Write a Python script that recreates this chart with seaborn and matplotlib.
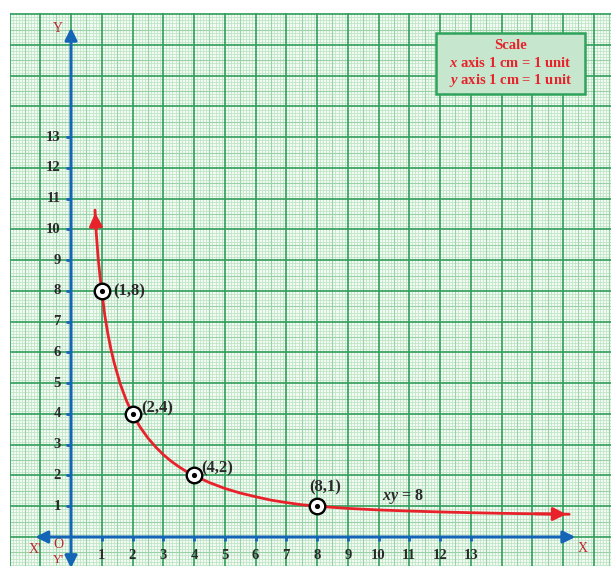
import numpy as np
import pandas as pd
import matplotlib
matplotlib.use("Agg")
import matplotlib.pyplot as plt
import seaborn as sns
from matplotlib.patches import Rectangle

# curve xy = 8 as drawn on the sheet
curve_x = [0.78, 0.82, 0.88, 0.94, 1.0, 1.1, 1.2, 1.3, 1.4, 1.6, 1.8, 2.0, 2.25, 2.5, 2.75, 3.0,
           3.25, 3.5, 3.75, 4.0, 4.5, 5.0, 5.5, 6.0, 6.5, 7.0, 7.5, 8.0, 9.0, 10.0, 11.0, 12.0,
           13.0, 14.0, 15.0, 16.2]
curve_y = [10.63, 9.9, 9.1, 8.5, 8.0, 7.2, 6.6, 6.1, 5.68, 4.98, 4.44, 4.0, 3.57, 3.22, 2.93, 2.68,
           2.47, 2.29, 2.13, 2.0, 1.77, 1.58, 1.43, 1.31, 1.2, 1.12, 1.05, 1.0, 0.93, 0.88, 0.845, 0.815,
           0.79, 0.77, 0.755, 0.74]

# marked points
pt_x = [1, 2, 4, 8]
pt_y = [8, 4, 2, 1]
pt_labels = ["(1,8)", "(2,4)", "(4,2)", "(8,1)"]

x_ticks = list(range(1, 14))
y_ticks = list(range(1, 14))

sns.set_style("white")
plt.rcParams["font.family"] = ["Liberation Serif", "DejaVu Serif"]
plt.rcParams["mathtext.fontset"] = "custom"
plt.rcParams["mathtext.it"] = "Liberation Serif:italic:bold"
plt.rcParams["mathtext.rm"] = "Liberation Serif:bold"

BLUE = "#1565b7"
RED = "#e8222b"
DARK = "#2a2a2a"
LABRED = "#c0272d"

fig = plt.figure(figsize=(6.11, 5.66), dpi=100)
ax = fig.add_axes([10 / 611, 0, 601 / 611, 553 / 566])
ax.set_xlim(-1.984, 17.56)
ax.set_ylim(-0.943, 17.04)
ax.set_facecolor("#f3faf4")
for s in ax.spines.values():
    s.set_visible(False)
ax.set_xticks([])
ax.set_yticks([])

# graph paper
def paper_line(v):
    r = round(v * 10) % 10
    if r == 0:
        return "#2f9d5a", 1.2, 3
    if r == 5:
        return "#98d3a7", 0.8, 2
    return "#bde4c5", 0.55, 1

for v in np.arange(-2.0, 17.61, 0.1):
    c, lw, z = paper_line(v)
    ax.axvline(v, color=c, lw=lw, zorder=z)
for v in np.arange(-1.0, 17.11, 0.1):
    c, lw, z = paper_line(v)
    ax.axhline(v, color=c, lw=lw, zorder=z)

# axes
ax.annotate("", xy=(16.49, 0), xytext=(-1.25, 0),
            arrowprops=dict(arrowstyle="<|-|>", color=BLUE, lw=2.2, mutation_scale=18), zorder=5)
ax.annotate("", xy=(0, 16.65), xytext=(0, -1.1),
            arrowprops=dict(arrowstyle="<|-|>", color=BLUE, lw=2.2, mutation_scale=18), zorder=5)

for t in x_ticks:
    ax.plot([t, t], [0, -0.13], color=BLUE, lw=2, zorder=5, solid_capstyle="butt")
    ax.text(t, -0.6, str(t), ha="center", va="center", fontsize=10.5, fontweight="bold", color=DARK)
for t in y_ticks:
    ax.plot([0, -0.15], [t, t], color=BLUE, lw=2, zorder=5, solid_capstyle="butt")
    ax.text(-0.33, t, str(t), ha="right", va="center", fontsize=10.5, fontweight="bold", color=DARK)

ax.text(16.65, -0.36, "X", ha="center", va="center", fontsize=10, color=LABRED)
ax.text(-1.17, -0.4, "X'", ha="center", va="center", fontsize=10, color=LABRED)
ax.text(-0.42, -0.25, "O", ha="center", va="center", fontsize=10, color=LABRED)
ax.text(-0.4, -0.76, "Y'", ha="center", va="center", fontsize=9, color=LABRED)
ax.text(-0.42, 16.55, "Y", ha="center", va="center", fontsize=10, color=LABRED)

# curve
df = pd.DataFrame({"x": curve_x, "y": curve_y})
sns.lineplot(data=df, x="x", y="y", sort=False, color=RED, lw=2, ax=ax, zorder=6)
ax.annotate("", xy=(curve_x[0], curve_y[0]), xytext=(curve_x[1], curve_y[1]),
            arrowprops=dict(arrowstyle="-|>", color=RED, lw=2, mutation_scale=20), zorder=6)
ax.annotate("", xy=(curve_x[-1], curve_y[-1]), xytext=(curve_x[-2], curve_y[-2]),
            arrowprops=dict(arrowstyle="-|>", color=RED, lw=2, mutation_scale=20), zorder=6)

pts = pd.DataFrame({"x": pt_x, "y": pt_y})
sns.scatterplot(data=pts, x="x", y="y", s=125, color="white", edgecolor="black", linewidth=1.7, ax=ax, zorder=7)
sns.scatterplot(data=pts, x="x", y="y", s=14, color="black", edgecolor="black", linewidth=0, ax=ax, zorder=8)

offsets = [(0.36, 0.0, "left"), (0.3, 0.17, "left"), (0.24, 0.24, "left"), (0.27, 0.6, "center")]
for (px, py, lab, (dx, dy, ha)) in zip(pt_x, pt_y, pt_labels, offsets):
    ax.text(px + dx, py + dy, lab, ha=ha, va="center", fontsize=12, fontweight="bold", color=DARK, zorder=9)

ax.text(10.8, 1.33, r"$\mathit{xy}$ = 8", ha="center", va="center", fontsize=11.5,
        fontweight="bold", color=DARK, zorder=9)

# scale box
ax.add_patch(Rectangle((11.87, 14.41), 4.85, 1.98, facecolor="#c6e6cd", edgecolor="#2ea35a", lw=1.8, zorder=9))
ax.text(14.28, 15.98, "Scale", ha="center", va="center", fontsize=10.5, fontweight="bold", color=RED, zorder=10)
ax.text(14.28, 15.40, r"$\mathit{x}$ axis 1 cm = 1 unit", ha="center", va="center", fontsize=10.5,
        fontweight="bold", color=RED, zorder=10)
ax.text(14.28, 14.84, r"$\mathit{y}$ axis 1 cm = 1 unit", ha="center", va="center", fontsize=10.5,
        fontweight="bold", color=RED, zorder=10)

if ax.get_legend() is not None:
    ax.get_legend().remove()
ax.set_xlabel("")
ax.set_ylabel("")

fig.savefig("out.png", dpi=100, facecolor="white")
